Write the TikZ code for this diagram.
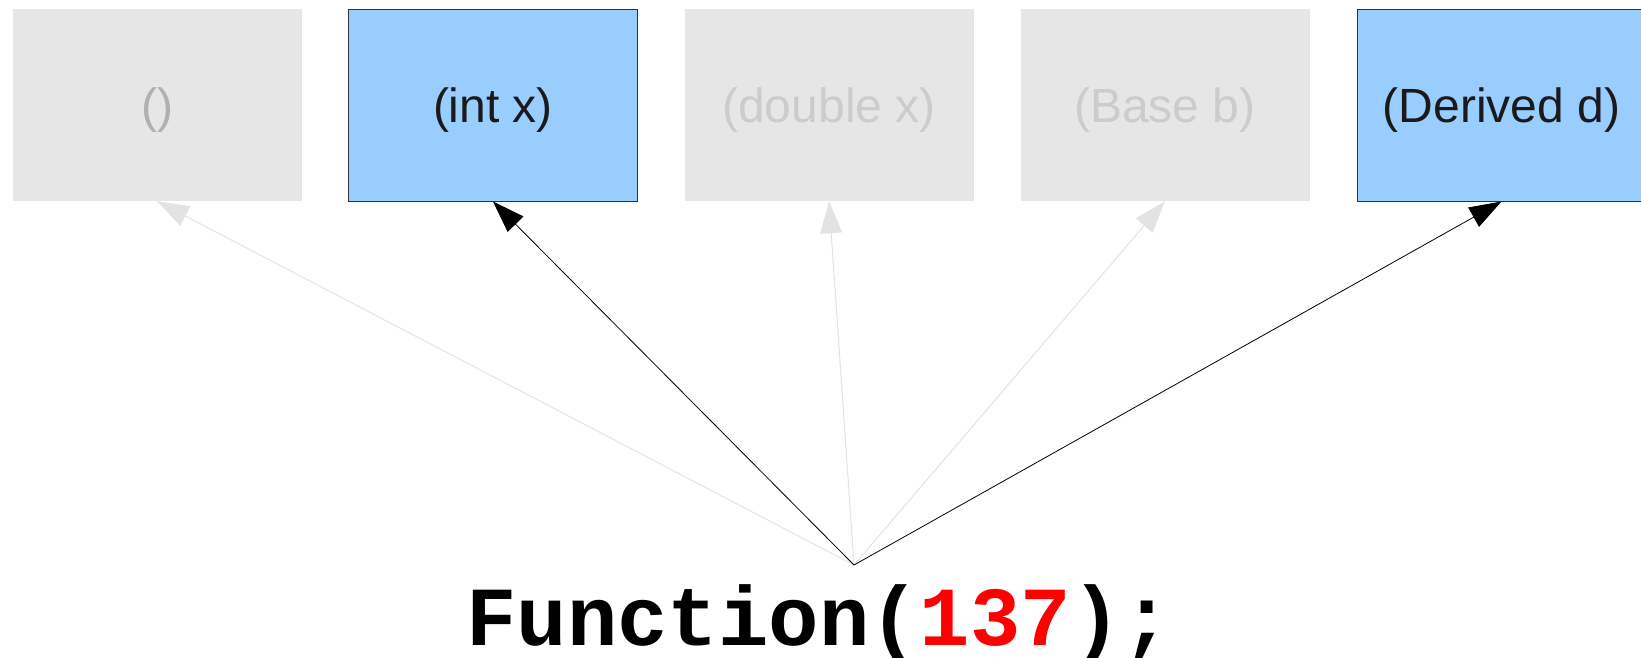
\documentclass[tikz,border=0pt]{standalone}
\usepackage{fontspec}
\setmainfont{Liberation Sans}
\newfontfamily\codefont{Liberation Mono}
\usetikzlibrary{arrows.meta}
\definecolor{boxgray}{HTML}{E6E6E6}
\definecolor{boxblue}{HTML}{99CCFF}
\definecolor{edgedark}{HTML}{333333}
\definecolor{txtmid}{HTML}{B0B0B0}
\definecolor{txtlight}{HTML}{CCCCCC}
\definecolor{txtdark}{HTML}{1A1A1A}
\definecolor{arrgray}{HTML}{E3E3E3}
\definecolor{numred}{HTML}{FF0000}
\tikzset{
  sig/.style={rectangle, inner sep=0pt, minimum width=289pt, minimum height=192pt,
    font=\fontsize{48}{58}\selectfont, text height=36pt, text depth=2pt},
  inactive/.style={sig, fill=boxgray},
  active/.style={sig, fill=boxblue, draw=edgedark, line width=1pt, text=txtdark},
  faded/.style={draw=arrgray, line width=1pt, -{Triangle[length=32pt,width=22pt]}},
  chosen/.style={draw=black, line width=0.8pt, -{Triangle[length=32pt,width=22pt]}}
}
\begin{document}
\begin{tikzpicture}[x=1pt,y=-1pt]
\useasboundingbox (0,0) rectangle (1641,657);
\node[inactive, text=txtmid] (b1) at (157,105) {()};
\node[active] (b2) at (493,105) {(int x)};
\node[inactive, text=txtlight] (b3) at (829,105) {(double x)};
\node[inactive, text=txtlight] (b4) at (1165,105) {(Base b)};
\node[active] (b5) at (1501.5,105) {(Derived d)};
\coordinate (src) at (854,565);
\draw[faded] (src) -- (b1.south);
\draw[faded] (src) -- (b3.south);
\draw[faded] (src) -- (b4.south);
\draw[chosen] (src) -- (b2.south);
\draw[chosen] (src) -- (b5.south);
\node[anchor=base west, inner sep=0pt, font=\codefont\bfseries\fontsize{84}{100}\selectfont] (call) at (466,645) {Function(\textcolor{numred}{137});};
\end{tikzpicture}
\end{document}
